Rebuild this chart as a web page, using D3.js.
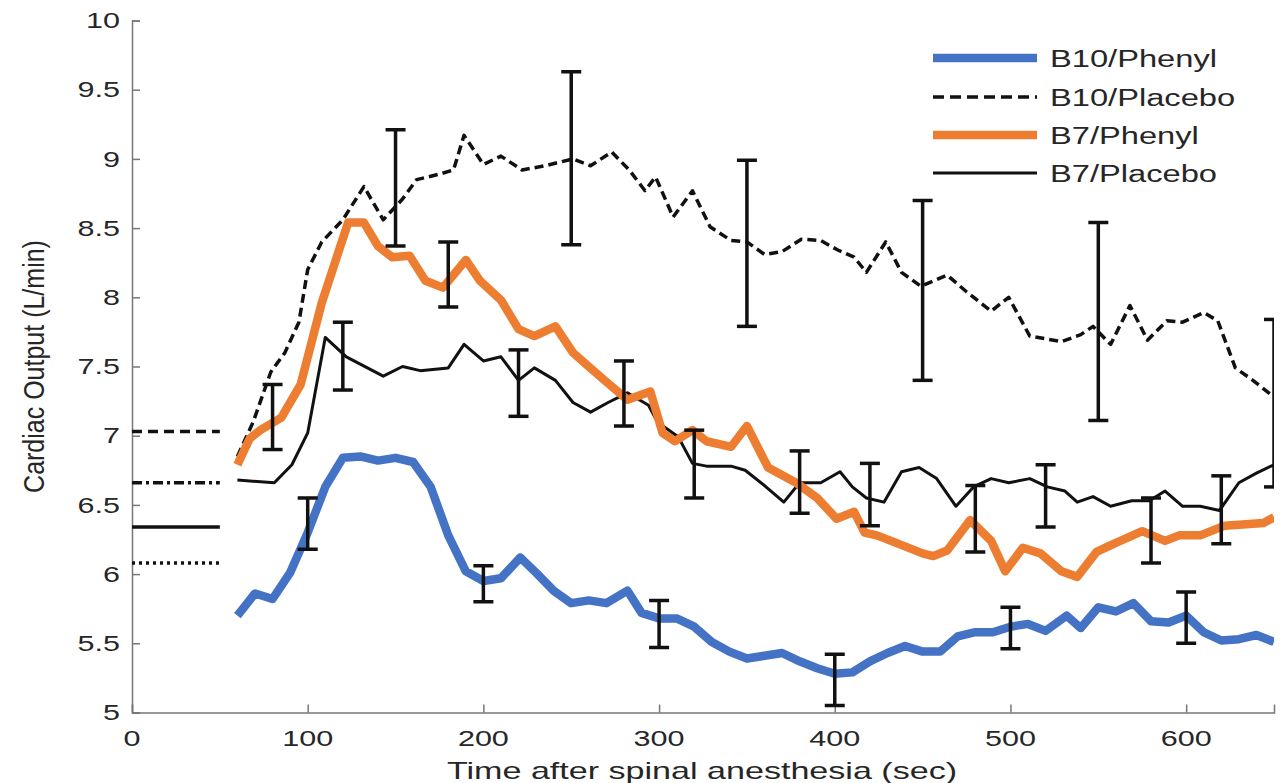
<!DOCTYPE html>
<html>
<head>
<meta charset="utf-8">
<script src="https://cdn.jsdelivr.net/npm/d3@7"></script>
<style>
    body { margin: 0; background: #fff; }
    #chart-area { width: 1281px; height: 783px; }
    text { font-family: "Liberation Sans", Arial, sans-serif; fill: #262626; }
</style>
</head>
<body>
<div id="chart-area"></div>
<script>
// values: [time (sec), cardiac output (L/min)]
const b10Phenyl = [[60,5.70],[70,5.86],[80,5.82],[90,6.01],[100,6.30],[110,6.63],[120,6.84],[130,6.85],[140,6.82],[150,6.84],[160,6.81],[170,6.63],[180,6.28],[190,6.02],[200,5.95],[210,5.97],[221,6.12],[230,6.01],[240,5.88],[250,5.79],[260,5.81],[270,5.79],[282,5.88],[290,5.72],[300,5.68],[310,5.68],[320,5.62],[330,5.51],[340,5.44],[350,5.39],[360,5.41],[370,5.43],[380,5.37],[390,5.32],[400,5.28],[410,5.29],[420,5.37],[430,5.43],[440,5.48],[450,5.44],[460,5.44],[470,5.55],[480,5.58],[490,5.58],[500,5.62],[510,5.64],[520,5.59],[532,5.70],[540,5.61],[550,5.76],[560,5.73],[570,5.79],[580,5.66],[590,5.65],[600,5.70],[610,5.58],[620,5.52],[630,5.53],[640,5.56],[650,5.51]];

const b10Placebo = [[60,6.85],[69,7.10],[79,7.46],[87,7.60],[95,7.82],[100,8.20],[108,8.40],[120,8.56],[132,8.80],[143,8.56],[154,8.71],[162,8.85],[175,8.89],[183,8.92],[189,9.17],[200,8.96],[210,9.02],[222,8.92],[235,8.95],[251,9.00],[261,8.95],[273,9.05],[283,8.92],[292,8.77],[298,8.87],[308,8.58],[319,8.77],[329,8.51],[341,8.41],[350,8.40],[360,8.31],[370,8.33],[381,8.42],[392,8.41],[402,8.34],[411,8.29],[418,8.18],[429,8.40],[438,8.18],[449,8.08],[464,8.16],[475,8.04],[489,7.90],[499,8.00],[511,7.72],[529,7.68],[540,7.73],[547,7.79],[557,7.66],[568,7.94],[578,7.69],[589,7.83],[598,7.82],[610,7.89],[618,7.83],[628,7.49],[638,7.40],[650,7.28]];

const b7Phenyl = [[60,6.79],[67,6.98],[73,7.04],[85,7.13],[96,7.37],[108,7.96],[123,8.54],[132,8.54],[140,8.37],[148,8.29],[158,8.30],[167,8.12],[177,8.07],[190,8.27],[198,8.12],[210,7.98],[220,7.77],[229,7.72],[241,7.79],[251,7.60],[259,7.51],[269,7.40],[282,7.26],[295,7.32],[302,7.02],[309,6.96],[319,7.04],[327,6.96],[341,6.92],[350,7.07],[362,6.77],[378,6.66],[390,6.55],[401,6.40],[411,6.45],[417,6.30],[424,6.28],[436,6.22],[450,6.15],[456,6.13],[464,6.17],[477,6.39],[489,6.24],[497,6.02],[507,6.19],[517,6.15],[529,6.02],[538,5.98],[549,6.16],[559,6.22],[575,6.31],[588,6.24],[596,6.28],[608,6.28],[622,6.35],[644,6.37],[650,6.41]];

const b7Placebo = [[60,6.68],[81,6.66],[91,6.79],[100,7.02],[110,7.71],[122,7.57],[143,7.43],[154,7.50],[164,7.47],[180,7.49],[189,7.66],[200,7.54],[210,7.57],[220,7.40],[229,7.49],[241,7.40],[251,7.24],[261,7.17],[271,7.24],[282,7.31],[294,7.22],[299,7.10],[311,6.99],[319,6.80],[327,6.78],[341,6.78],[349,6.75],[360,6.64],[371,6.52],[380,6.66],[392,6.66],[403,6.74],[410,6.63],[418,6.55],[428,6.52],[438,6.74],[448,6.77],[458,6.69],[469,6.49],[479,6.63],[489,6.69],[499,6.66],[511,6.69],[521,6.63],[531,6.60],[538,6.52],[547,6.56],[557,6.49],[569,6.53],[579,6.53],[588,6.60],[598,6.49],[608,6.49],[619,6.46],[630,6.66],[640,6.73],[650,6.79]];

// error bars
const errT    = [80, 100, 120, 150, 180, 200, 220, 250, 280, 300, 320, 350, 380, 400, 420, 450, 480, 500, 520, 550, 580, 600, 620, 650];
const errLow  = [6.90, 6.18, 7.33, 8.37, 7.93, 5.80, 7.14, 8.38, 7.07, 5.47, 6.55, 7.79, 6.44, 5.05, 6.35, 7.40, 6.16, 5.46, 6.34, 7.11, 6.08, 5.50, 6.22, 6.63];
const errHigh = [7.37, 6.55, 7.82, 9.21, 8.40, 6.06, 7.62, 9.63, 7.54, 5.81, 7.04, 8.99, 6.89, 5.42, 6.80, 8.70, 6.64, 5.76, 6.79, 8.54, 6.55, 5.87, 6.71, 7.84];

// baseline values drawn at the left (0 - 50 sec)
const baseVals = [7.03, 6.66, 6.34, 6.08];
const baseEnd = 50;

const xTicks = [0, 100, 200, 300, 400, 500, 600];
const yTicks = [5, 5.5, 6, 6.5, 7, 7.5, 8, 8.5, 9, 9.5, 10];
const yTickLabels = ["5", "5.5", "6", "6.5", "7", "7.5", "8", "8.5", "9", "9.5", "10"];

const seriesNames = ["B10/Phenyl", "B10/Placebo", "B7/Phenyl", "B7/Placebo"];

class CardiacVis {

    constructor(_parentElement) {
        this.parentElement = _parentElement;
        this.initVis();
    }

    initVis() {
        let vis = this;

        vis.width = 1281;
        vis.height = 783;
        vis.stretch = 1.42; // text in the figure is stretched sideways

        vis.svg = d3.select("#" + vis.parentElement).append("svg")
            .attr("width", vis.width)
            .attr("height", vis.height);

        vis.x = d3.scaleLinear().domain([0, 650]).range([132, 1274]);
        vis.y = d3.scaleLinear().domain([5, 10]).range([712.5, 20.5]);

        vis.svg.append("clipPath").attr("id", "plot-clip")
            .append("rect")
            .attr("x", vis.x(0))
            .attr("y", vis.y(10) - 10)
            .attr("width", vis.x(650) - vis.x(0))
            .attr("height", vis.y(5) - vis.y(10) + 20);

        vis.styles = [
            {data: b10Phenyl, color: "#4472c4", width: 8.5, dash: null},
            {data: b10Placebo, color: "#111", width: 3.5, dash: "9,5"},
            {data: b7Phenyl, color: "#ed7d31", width: 8.5, dash: null},
            {data: b7Placebo, color: "#111", width: 3, dash: null}
        ];

        vis.updateVis();
    }

    stretchedText(x, y, anchor, size, label) {
        let vis = this;
        return vis.svg.append("text")
            .attr("transform", `translate(${x},${y}) scale(${vis.stretch},1)`)
            .attr("text-anchor", anchor)
            .attr("font-size", size)
            .text(label);
    }

    updateVis() {
        let vis = this;

        // axes, ticks pointing inward
        vis.svg.append("g")
            .attr("transform", `translate(0,${vis.y(5)})`)
            .call(d3.axisBottom(vis.x).tickValues(xTicks).tickSize(-8).tickFormat(""))
            .call(g => g.selectAll("path, line").attr("stroke", "#777").attr("stroke-width", 1.5));

        vis.svg.append("g")
            .attr("transform", `translate(${vis.x(0)},0)`)
            .call(d3.axisLeft(vis.y).tickValues(yTicks).tickSize(-8).tickFormat(""))
            .call(g => g.selectAll("path, line").attr("stroke", "#777").attr("stroke-width", 1.5));

        xTicks.forEach(t => vis.stretchedText(vis.x(t), 746, "middle", 21.5, t));
        yTicks.forEach((v, i) => vis.stretchedText(120, vis.y(v) + 7.7, "end", 21.5, yTickLabels[i]));

        vis.stretchedText(702, 779, "middle", 24, "Time after spinal anesthesia (sec)");

        vis.svg.append("text")
            .attr("transform", `translate(44,${vis.y(7.5)}) scale(1.15,1) rotate(-90)`)
            .attr("text-anchor", "middle")
            .attr("font-size", 25)
            .text("Cardiac Output (L/min)");

        // baselines at the left
        let baseDash = ["10,6", "10,4,3,4", null, "3,4"];
        baseVals.forEach((v, i) => {
            vis.svg.append("line")
                .attr("x1", vis.x(0))
                .attr("x2", vis.x(baseEnd))
                .attr("y1", vis.y(v))
                .attr("y2", vis.y(v))
                .attr("stroke", "#111")
                .attr("stroke-width", 3.5)
                .attr("stroke-dasharray", baseDash[i]);
        });

        let plot = vis.svg.append("g").attr("clip-path", "url(#plot-clip)");

        let line = d3.line()
            .x(d => vis.x(d[0]))
            .y(d => vis.y(d[1]));

        // draw order: placebo lines under the thick ones
        [1, 3, 2, 0].forEach(i => {
            let s = vis.styles[i];
            plot.append("path")
                .datum(s.data)
                .attr("d", line)
                .attr("fill", "none")
                .attr("stroke", s.color)
                .attr("stroke-width", s.width)
                .attr("stroke-linejoin", "round")
                .attr("stroke-dasharray", s.dash);
        });

        // error bars
        let bars = plot.selectAll(".err")
            .data(errT.map((t, i) => ({t: t, lo: errLow[i], hi: errHigh[i]})))
            .enter().append("g")
            .attr("class", "err")
            .attr("stroke", "#111")
            .attr("stroke-width", 3.5);

        bars.append("line")
            .attr("x1", d => vis.x(d.t)).attr("x2", d => vis.x(d.t))
            .attr("y1", d => vis.y(d.lo)).attr("y2", d => vis.y(d.hi));
        bars.append("line")
            .attr("x1", d => vis.x(d.t) - 10).attr("x2", d => vis.x(d.t) + 10)
            .attr("y1", d => vis.y(d.lo)).attr("y2", d => vis.y(d.lo));
        bars.append("line")
            .attr("x1", d => vis.x(d.t) - 10).attr("x2", d => vis.x(d.t) + 10)
            .attr("y1", d => vis.y(d.hi)).attr("y2", d => vis.y(d.hi));

        // legend
        let legendY = [58, 97, 135, 173];
        seriesNames.forEach((name, i) => {
            let s = vis.styles[i];
            vis.svg.append("line")
                .attr("x1", 933).attr("x2", 1037)
                .attr("y1", legendY[i]).attr("y2", legendY[i])
                .attr("stroke", s.color)
                .attr("stroke-width", s.width)
                .attr("stroke-dasharray", s.dash ? "11,6" : null);
            vis.stretchedText(1050, legendY[i] + 9, "start", 23, name);
        });
    }
}

new CardiacVis("chart-area");
</script>
</body>
</html>
